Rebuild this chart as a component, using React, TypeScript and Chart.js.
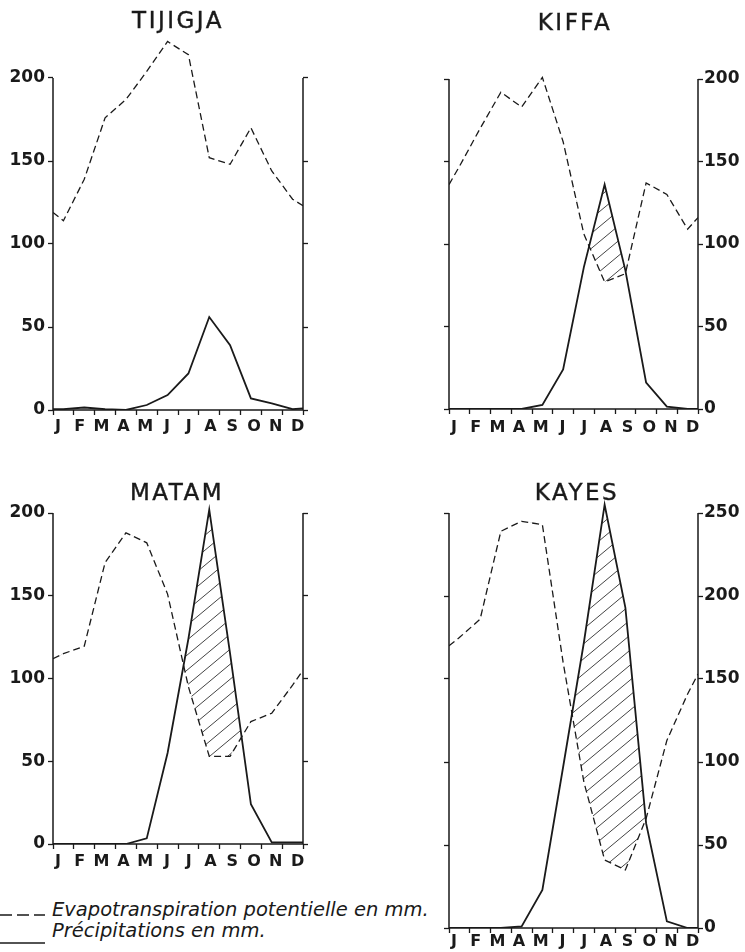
import React, { useEffect, useRef } from 'react';
import { Chart, registerables } from 'chart.js';

Chart.register(...registerables);

// ---------- data ----------
const MONTHS = ['J', 'F', 'M', 'A', 'M', 'J', 'J', 'A', 'S', 'O', 'N', 'D'];

// monthly values (mid-month) and the values where the curves meet the left / right axis
const TIJIGJA_ETP = [114, 139, 176, 187, 204, 222, 214, 152, 148, 170, 144, 127];
const TIJIGJA_ETP_EDGE = [119, 123];
const TIJIGJA_RAIN = [0.5, 1.5, 0.5, 0, 3, 9, 22, 56, 39, 7, 4, 0.5];
const TIJIGJA_RAIN_EDGE = [0.5, 1];

const KIFFA_ETP = [147, 170, 192, 183, 201, 162, 106, 77, 82, 137, 130, 109];
const KIFFA_ETP_EDGE = [136, 116];
const KIFFA_RAIN = [0, 0, 0, 0, 2.5, 24, 86, 136, 84, 16, 1.5, 0];
const KIFFA_RAIN_EDGE = [0, 0];

const MATAM_ETP = [115, 119.5, 170, 188, 182, 151, 95, 53, 53, 74, 79, 96];
const MATAM_ETP_EDGE = [112, 105];
const MATAM_RAIN = [0, 0, 0, 0, 3.4, 55, 124, 202, 115, 24, 1, 1];
const MATAM_RAIN_EDGE = [0, 1];

const KAYES_ETP = [175, 186, 239, 245, 243, 160, 88, 41, 35, 66, 113, 141];
const KAYES_ETP_EDGE = [170, 153];
const KAYES_RAIN = [0, 0, 0, 1, 23, 97, 172, 255, 193, 63, 4, 0];
const KAYES_RAIN_EDGE = [0, 0];

const TICKS_200 = [0, 50, 100, 150, 200];
const TICKS_250 = [0, 50, 100, 150, 200, 250];

const LEGEND_ETP = 'Evapotranspiration potentielle en mm.';
const LEGEND_RAIN = 'Précipitations en mm.';

// ---------- styling / layout ----------
const INK = '#1a1a1a';
const FONT = 'DejaVu Sans';

// x-axis: tick marks at month boundaries, month letters spread slightly wider than mid-months
const X_TICKS: { value: number; label: string }[] = [
  ...Array.from({ length: 13 }, (_, i) => ({ value: i, label: '' })),
  ...MONTHS.map((m, i) => ({ value: 0.24 + (i * 11.5) / 11, label: m })),
].sort((a, b) => a.value - b.value);

type PanelDef = {
  title: string;
  etp: number[];
  etpEdge: number[];
  rain: number[];
  rainEdge: number[];
  ticks: number[];
  labelSide: 'left' | 'right';
  left: number;
  top: number;
  width: number;
  height: number;
  leftW: number;
  rightW: number;
  xH: number;
  y0: number;
  yT: number;
  xPad: number;
  titleX: number;
  titleY: number;
};

const PANELS: PanelDef[] = [
  {
    title: 'TIJIGJA', etp: TIJIGJA_ETP, etpEdge: TIJIGJA_ETP_EDGE, rain: TIJIGJA_RAIN, rainEdge: TIJIGJA_RAIN_EDGE,
    ticks: TICKS_200, labelSide: 'left',
    left: 0, top: 28, width: 315, height: 414, leftW: 53, rightW: 12, xH: 32, y0: 410, yT: 78, xPad: 2,
    titleX: 178, titleY: 20,
  },
  {
    title: 'KIFFA', etp: KIFFA_ETP, etpEdge: KIFFA_ETP_EDGE, rain: KIFFA_RAIN, rainEdge: KIFFA_RAIN_EDGE,
    ticks: TICKS_200, labelSide: 'right',
    left: 437, top: 62, width: 308, height: 379, leftW: 12, rightW: 47, xH: 32, y0: 409, yT: 79, xPad: 4,
    titleX: 575, titleY: 22,
  },
  {
    title: 'MATAM', etp: MATAM_ETP, etpEdge: MATAM_ETP_EDGE, rain: MATAM_RAIN, rainEdge: MATAM_RAIN_EDGE,
    ticks: TICKS_200, labelSide: 'left',
    left: 0, top: 496, width: 315, height: 380, leftW: 53, rightW: 12, xH: 32, y0: 844, yT: 513, xPad: 3,
    titleX: 177, titleY: 492,
  },
  {
    title: 'KAYES', etp: KAYES_ETP, etpEdge: KAYES_ETP_EDGE, rain: KAYES_RAIN, rainEdge: KAYES_RAIN_EDGE,
    ticks: TICKS_250, labelSide: 'right',
    left: 437, top: 496, width: 308, height: 456, leftW: 12, rightW: 47, xH: 24, y0: 928, yT: 513, xPad: -1,
    titleX: 577, titleY: 492,
  },
];

function series(vals: number[], edges: number[]) {
  return [
    { x: 0, y: edges[0] },
    ...vals.map((v, i) => ({ x: i + 0.5, y: v })),
    { x: 12, y: edges[1] },
  ];
}

function makeHatch(): CanvasPattern | string {
  const w = 18;
  const h = 15;
  const c = document.createElement('canvas');
  c.width = w;
  c.height = h;
  const ctx = c.getContext('2d');
  if (!ctx) return 'rgba(0,0,0,0.1)';
  ctx.strokeStyle = '#444';
  ctx.lineWidth = 1;
  for (let k = -1; k <= 1; k++) {
    ctx.beginPath();
    ctx.moveTo(-w, 2 * h + k * h);
    ctx.lineTo(2 * w, -h + k * h);
    ctx.stroke();
  }
  return ctx.createPattern(c, 'repeat') || 'rgba(0,0,0,0.1)';
}

function axisLinesPlugin(topTick: number) {
  return {
    id: 'axisLines',
    afterDraw(chart: any) {
      const { ctx, chartArea: a, scales } = chart;
      const yT = scales.y.getPixelForValue(topTick);
      const y0 = scales.y.getPixelForValue(0);
      ctx.save();
      ctx.strokeStyle = INK;
      ctx.lineWidth = 1.5;
      ctx.beginPath();
      ctx.moveTo(a.left, yT);
      ctx.lineTo(a.left, y0);
      ctx.lineTo(a.right, y0);
      ctx.lineTo(a.right, yT);
      ctx.stroke();
      ctx.restore();
    },
  };
}

function Panel({ p }: { p: PanelDef }) {
  const ref = useRef<HTMLCanvasElement>(null);
  useEffect(() => {
    const canvas = ref.current;
    if (!canvas) return;
    const topTick = p.ticks[p.ticks.length - 1];
    const yMax = (topTick * (p.y0 - p.top)) / (p.y0 - p.yT);
    const yFont = { family: FONT, size: 17, weight: 'bold' as const };
    const xFont = { family: FONT, size: 16, weight: 'bold' as const };
    const hatch = makeHatch();

    const yGrid = { drawOnChartArea: false, drawTicks: true, tickLength: 5, tickWidth: 1.3, tickColor: INK };
    const yAxis = (side: 'left' | 'right') => ({
      type: 'linear' as const,
      position: side,
      min: 0,
      max: yMax,
      afterBuildTicks: (s: any) => {
        s.ticks = p.ticks.map((v) => ({ value: v }));
      },
      ticks: {
        padding: side === 'left' ? 3 : 1,
        font: yFont,
        color: INK,
        autoSkip: false,
        callback: (v: any) => (p.labelSide === side ? String(v) : ''),
      },
      grid: yGrid,
      border: { display: false },
      afterFit: (s: any) => {
        s.width = side === 'left' ? p.leftW : p.rightW;
        s.paddingTop = 0;
        s.paddingBottom = 0;
      },
    });

    const chart = new Chart(canvas, {
      type: 'line',
      data: {
        datasets: [
          {
            label: LEGEND_ETP,
            data: series(p.etp, p.etpEdge),
            borderColor: INK,
            borderWidth: 1.3,
            borderDash: [7, 4],
            pointRadius: 0,
            tension: 0,
            fill: false,
          },
          {
            label: LEGEND_RAIN,
            data: series(p.rain, p.rainEdge),
            borderColor: INK,
            borderWidth: 1.8,
            pointRadius: 0,
            tension: 0,
            fill: { target: 0, above: hatch as any, below: 'rgba(0,0,0,0)' },
          },
        ],
      },
      options: {
        animation: false,
        responsive: false,
        events: [],
        layout: { padding: 0 },
        plugins: { legend: { display: false }, tooltip: { enabled: false }, title: { display: false } },
        scales: {
          x: {
            type: 'linear',
            min: 0,
            max: 12,
            afterBuildTicks: (s: any) => {
              s.ticks = X_TICKS.map((t) => ({ value: t.value }));
            },
            ticks: {
              autoSkip: false,
              maxRotation: 0,
              padding: p.xPad,
              font: xFont,
              color: INK,
              callback: (_v: any, i: number) => X_TICKS[i].label,
            },
            grid: {
              drawOnChartArea: false,
              drawTicks: true,
              tickLength: 5,
              tickWidth: 1.3,
              tickColor: (ctx: any) =>
                ctx.tick && Number.isInteger(ctx.tick.value) ? INK : 'rgba(0,0,0,0)',
            },
            border: { display: false },
            afterFit: (s: any) => {
              s.height = p.xH;
              s.paddingLeft = 0;
              s.paddingRight = 0;
            },
          },
          y: yAxis('left') as any,
          yR: yAxis('right') as any,
        },
      },
      plugins: [axisLinesPlugin(topTick)],
    });
    return () => chart.destroy();
  }, [p]);

  return (
    <>
      <canvas
        ref={ref}
        width={p.width}
        height={p.height}
        style={{ position: 'absolute', left: p.left, top: p.top, width: p.width, height: p.height }}
      />
      <div
        style={{
          position: 'absolute',
          left: p.titleX,
          top: p.titleY,
          transform: 'translate(-50%, -50%)',
          font: `23px "${FONT}"`,
          letterSpacing: '2.5px',
          color: INK,
          whiteSpace: 'nowrap',
          lineHeight: '26px',
          WebkitTextStroke: '0.4px ' + INK,
        }}
      >
        {p.title}
      </div>
    </>
  );
}

export default function App() {
  const legendText: React.CSSProperties = {
    position: 'absolute',
    left: 52,
    font: `italic 19.5px "${FONT}"`,
    lineHeight: '20px',
    color: INK,
    whiteSpace: 'nowrap',
  };
  return (
    <div style={{ position: 'absolute', left: 0, top: 0, width: 745, height: 952, background: '#fff', overflow: 'hidden' }}>
      {PANELS.map((p) => (
        <Panel key={p.title} p={p} />
      ))}
      <svg width={50} height={52} style={{ position: 'absolute', left: 0, top: 900 }}>
        <line x1={0} y1={15} x2={45} y2={15} stroke={INK} strokeWidth={1.5} strokeDasharray="12 5" />
        <line x1={0} y1={43} x2={45} y2={43} stroke={INK} strokeWidth={1.5} />
      </svg>
      <div style={{ ...legendText, top: 900 }}>{LEGEND_ETP}</div>
      <div style={{ ...legendText, top: 921 }}>{LEGEND_RAIN}</div>
    </div>
  );
}
